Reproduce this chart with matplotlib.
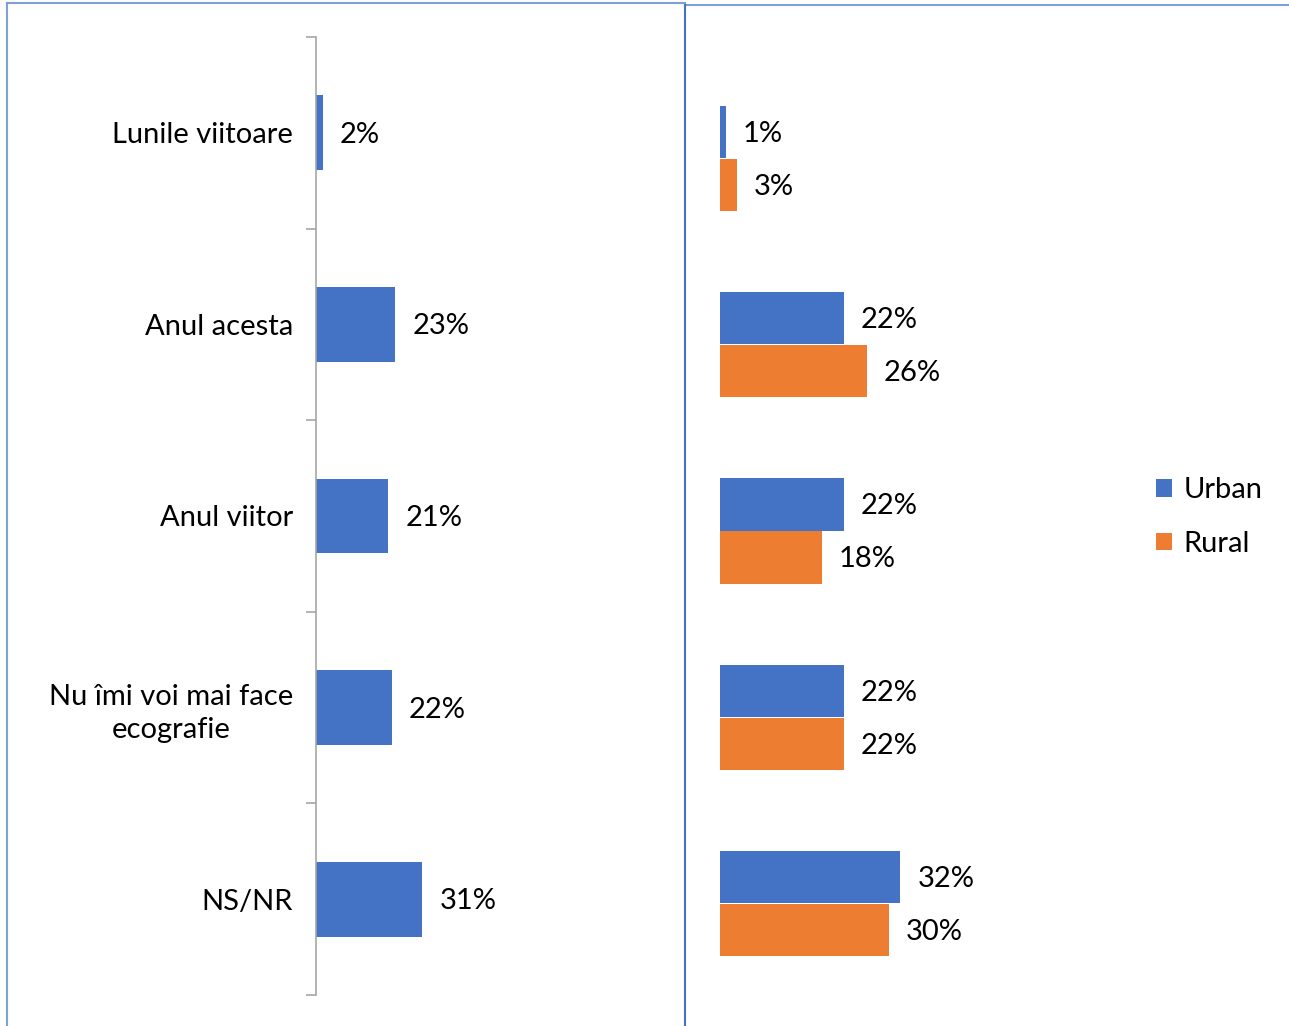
import matplotlib
matplotlib.use('Agg')
from matplotlib import pyplot as plt
from matplotlib.lines import Line2D
import numpy as np

categories = ['Lunile viitoare', 'Anul acesta', 'Anul viitor', 'Nu îmi voi mai face\necografie', 'NS/NR']
total = [2, 23, 21, 22, 31]
urban = [1, 22, 22, 22, 32]
rural = [3, 26, 18, 22, 30]

blue = '#4472C4'
orange = '#ED7D31'
plt.rcParams['font.family'] = ['Lato', 'DejaVu Sans']
fs = 21

W, H = 1289, 1026
fig = plt.figure(figsize=(W / 100, H / 100), dpi=100)

# panel borders
fig.add_artist(Line2D([7 / W, 685 / W], [1 - 3 / H, 1 - 3 / H], color='#7f9fd6', lw=1.5))
fig.add_artist(Line2D([7 / W, 7 / W], [0, 1 - 3 / H], color='#7f9fd6', lw=1.5))
fig.add_artist(Line2D([685 / W, W / W], [1 - 5 / H, 1 - 5 / H], color='#7f9fd6', lw=1.5))
fig.add_artist(Line2D([685 / W, 685 / W], [0, 1 - 5 / H], color='#4472C4', lw=1.5))

y = np.arange(len(categories))

# left chart - total
ax = fig.add_axes([316 / W, 1 - 995 / H, 364 / W, 958 / H])
ax.barh(y, total, height=0.39, color=blue)
ax.set_xlim(0, 106)
ax.set_ylim(4.5, -0.5)
for s in ['top', 'right', 'bottom']:
    ax.spines[s].set_visible(False)
ax.spines['left'].set_color('#a6a6a6')
ax.spines['left'].set_linewidth(1.2)
ax.set_xticks([])
ax.set_yticks(y)
ax.set_yticklabels(categories, fontsize=fs)
ax.tick_params(axis='y', which='major', length=0, pad=16.5)
ax.set_yticks(np.arange(-0.5, len(categories), 1), minor=True)
ax.tick_params(axis='y', which='minor', length=7, color='#a6a6a6', width=1.2)
lbl = ax.get_yticklabels()[3]
lbl.set_multialignment('center')
lbl.set_linespacing(1.35)
for yi, v in zip(y, total):
    ax.text(v + 5, yi + 0.01, f'{v}%', va='center', ha='left', fontsize=fs)

# right chart - urban / rural
ax2 = fig.add_axes([720 / W, 1 - 997 / H, 410 / W, 932 / H])
off = 0.142
hb = 0.28
ax2.barh(y - off, urban, height=hb, color=blue, label='Urban')
ax2.barh(y + off, rural, height=hb, color=orange, label='Rural')
ax2.set_xlim(0, 72.7)
ax2.set_ylim(4.5, -0.5)
ax2.axis('off')
for yi, v in zip(y, urban):
    ax2.text(v + 3, yi - off + 0.01, f'{v}%', va='center', ha='left', fontsize=fs)
for yi, v in zip(y, rural):
    ax2.text(v + 3, yi + off + 0.01, f'{v}%', va='center', ha='left', fontsize=fs)

fig.legend(loc='center left', bbox_to_anchor=(1130 / W, 1 - 517 / H), frameon=False,
           fontsize=fs, handlelength=0.55, handleheight=0.55, handletextpad=0.38,
           labelspacing=0.95)

fig.savefig('out.png', dpi=100)
